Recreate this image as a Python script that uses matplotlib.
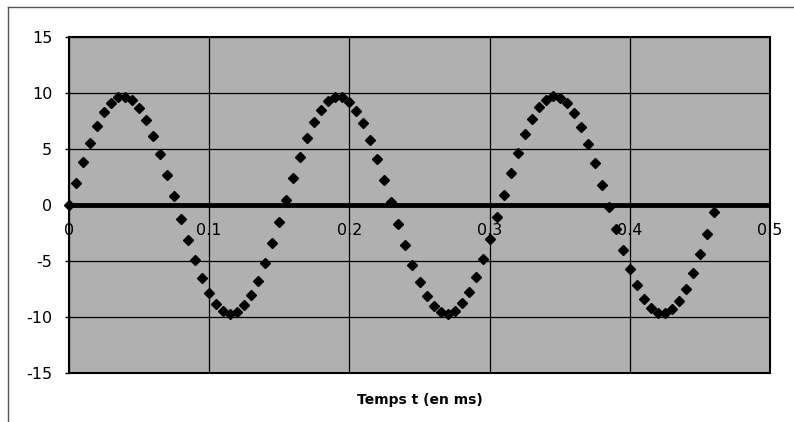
import matplotlib.pyplot as plt
from matplotlib.lines import Line2D

plt.rcParams['axes.unicode_minus'] = False

# time in ms
t = [0.000, 0.005, 0.010, 0.015, 0.020, 0.025, 0.030, 0.035, 0.040, 0.045,
     0.050, 0.055, 0.060, 0.065, 0.070, 0.075, 0.080, 0.085, 0.090, 0.095,
     0.100, 0.105, 0.110, 0.115, 0.120, 0.125, 0.130, 0.135, 0.140, 0.145,
     0.150, 0.155, 0.160, 0.165, 0.170, 0.175, 0.180, 0.185, 0.190, 0.195,
     0.200, 0.205, 0.210, 0.215, 0.220, 0.225, 0.230, 0.235, 0.240, 0.245,
     0.250, 0.255, 0.260, 0.265, 0.270, 0.275, 0.280, 0.285, 0.290, 0.295,
     0.300, 0.305, 0.310, 0.315, 0.320, 0.325, 0.330, 0.335, 0.340, 0.345,
     0.350, 0.355, 0.360, 0.365, 0.370, 0.375, 0.380, 0.385, 0.390, 0.395,
     0.400, 0.405, 0.410, 0.415, 0.420, 0.425, 0.430, 0.435, 0.440, 0.445,
     0.450, 0.455, 0.460]

# signal
u = [0.0, 1.97, 3.85, 5.58, 7.07, 8.27, 9.13, 9.60, 9.68, 9.36,
     8.64, 7.57, 6.18, 4.54, 2.71, 0.76, -1.22, -3.14, -4.94, -6.53,
     -7.85, -8.84, -9.47, -9.70, -9.53, -8.96, -8.02, -6.75, -5.20, -3.43,
     -1.52, 0.46, 2.41, 4.27, 5.95, 7.38, 8.50, 9.27, 9.66, 9.64,
     9.23, 8.43, 7.28, 5.82, 4.13, 2.26, 0.30, -1.67, -3.57, -5.33,
     -6.86, -8.11, -9.02, -9.56, -9.70, -9.43, -8.78, -7.76, -6.41, -4.81,
     -3.00, -1.06, 0.91, 2.85, 4.67, 6.30, 7.67, 8.71, 9.40, 9.69,
     9.58, 9.07, 8.19, 6.97, 5.45, 3.71, 1.82, -0.15, -2.12, -3.99,
     -5.70, -7.17, -8.35, -9.18, -9.62, -9.67, -9.31, -8.57, -7.47, -6.06,
     -4.40, -2.56, -0.61]

x_ticks = [0, 0.1, 0.2, 0.3, 0.4, 0.5]
x_tick_labels = ['0', '0.1', '0.2', '0.3', '0.4', '0.5']
y_ticks = [-15, -10, -5, 0, 5, 10, 15]
x_label = 'Temps t (en ms)'

fig = plt.figure(figsize=(7.94, 4.22), dpi=100)
ax = fig.add_axes([69 / 794, 49 / 422, 701 / 794, 336 / 422])

ax.set_facecolor('#b0b0b0')
ax.set_xlim(0, 0.5)
ax.set_ylim(-15, 15)

# grid
ax.set_xticks(x_ticks)
ax.set_xticklabels([])
ax.set_yticks(y_ticks)
ax.grid(True, color='black', linewidth=0.9)
ax.tick_params(axis='x', length=0)
ax.tick_params(axis='y', length=3, width=1, pad=9, labelsize=11.5)
for s in ax.spines.values():
    s.set_linewidth(1.5)
    s.set_color('black')

# thick zero line
ax.axhline(0, color='black', linewidth=3.5, zorder=3)

# x labels next to the zero line
for xv, lab in zip(x_ticks, x_tick_labels):
    ax.text(xv, -2.3, lab, ha='center', va='center', fontsize=11.5, zorder=4)

ax.plot(t, u, linestyle='none', marker='D', markersize=5.5,
        color='black', zorder=5, clip_on=False)

fig.text(419.5 / 794, 1 - 400 / 422, x_label, ha='center', va='center',
         fontsize=10, fontweight='bold')

# chart area border (left and top)
fig.add_artist(Line2D([8 / 794, 8 / 794], [0, 1 - 7 / 422],
                      transform=fig.transFigure, color='#555555', linewidth=1))
fig.add_artist(Line2D([8 / 794, 1], [1 - 7 / 422, 1 - 7 / 422],
                      transform=fig.transFigure, color='#555555', linewidth=1))

fig.savefig('out.png', dpi=100)
